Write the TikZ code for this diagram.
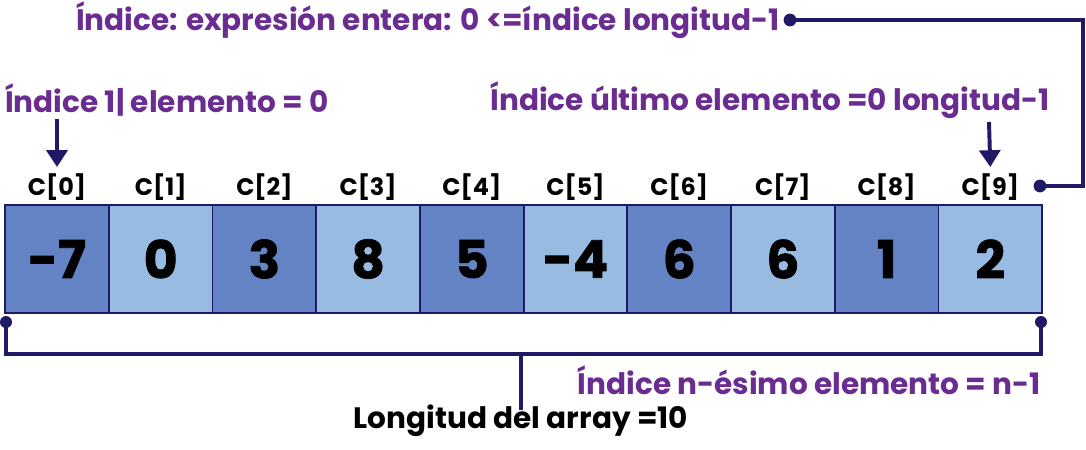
\documentclass[tikz,border=0pt]{standalone}
\usepackage{fontspec}
\setmainfont{Poppins}
\usepackage{tikz}
\usetikzlibrary{arrows.meta, positioning}

\definecolor{idxpurple}{HTML}{6A2C90}
\definecolor{navy}{HTML}{1F1966}
\definecolor{darkcell}{HTML}{6383C4}
\definecolor{lightcell}{HTML}{98BCE1}

\tikzset{
  cell/.style={draw=navy, line width=1.2pt, minimum width=2.59cm, minimum height=2.7cm,
               inner sep=0pt, font=\fontsize{37}{37}\selectfont\bfseries\addfontfeature{FakeBold=1.5}},
  lbl/.style={font=\fontsize{17}{17}\selectfont\bfseries, inner sep=0pt},
  ptext/.style={text=idxpurple, font=\fontsize{21}{21}\selectfont\bfseries, inner sep=0pt},
  wire/.style={navy, line width=3.3pt},
  pointer/.style={navy, line width=2.8pt, -{Triangle[width=0.52cm, length=0.42cm]}},
  dot/.style={navy}
}

\begin{document}
\begin{tikzpicture}[x=0.025cm, y=-0.025cm]
\useasboundingbox (0,0) rectangle (1086,449);

% cells
\node[cell, fill=darkcell] (c0) at (57,259) {-7};
\node[cell, fill=lightcell] (c1) at (160.7,259) {0};
\node[cell, fill=darkcell] (c2) at (264.4,259) {3};
\node[cell, fill=lightcell] (c3) at (368.1,259) {8};
\node[cell, fill=darkcell] (c4) at (471.8,259) {5};
\node[cell, fill=lightcell] (c5) at (575.5,259) {-4};
\node[cell, fill=darkcell] (c6) at (679.2,259) {6};
\node[cell, fill=lightcell] (c7) at (782.9,259) {6};
\node[cell, fill=darkcell] (c8) at (886.6,259) {1};
\node[cell, fill=lightcell] (c9) at (990.3,259) {2};

\node[lbl] (l0) at (57,187) {C[0]};
\node[lbl] (l1) at (160.7,187) {C[1]};
\node[lbl] (l2) at (264.4,187) {C[2]};
\node[lbl] (l3) at (368.1,187) {C[3]};
\node[lbl] (l4) at (471.8,187) {C[4]};
\node[lbl] (l5) at (575.5,187) {C[5]};
\node[lbl] (l6) at (679.2,187) {C[6]};
\node[lbl] (l7) at (782.9,187) {C[7]};
\node[lbl] (l8) at (886.6,187) {C[8]};
\node[lbl] (l9) at (990.3,187) {C[9]};

% texts
\node[ptext, anchor=east] (expr) at (780,20) {Índice: expresión entera: 0 <=índice longitud-1};
\node[ptext, anchor=west] (first) at (5,100) {Índice 1| elemento = 0};
\node[ptext, anchor=east] (last) at (1050,100) {Índice último elemento =0 longitud-1};
\node[ptext, anchor=east] (nth) at (1041,380) {Índice n-ésimo elemento = n-1};
\node[font=\fontsize{21}{21}\selectfont\bfseries, inner sep=0pt] (len) at (521,421) {Longitud del array =10};

\coordinate (t1) at (790,20);
\coordinate (t2) at (1083,20);
\coordinate (t3) at (1083,186);
\coordinate (t4) at (1040,186);
\coordinate (b1) at (6,322);
\coordinate (b2) at (6,354);
\coordinate (b3) at (1041,354);
\coordinate (b4) at (1041,322);
\coordinate (b5) at (521,354);
\coordinate (b6) at (521,410);
\coordinate (a1) at (57,119);
\coordinate (a2) at (989,122);

\draw[wire] (t1)--(t2)--(t3)--(t4);
\fill[dot] (t1) circle (0.16cm);
\fill[dot] (t4) circle (0.16cm);
\draw[wire] (b1)--(b2)--(b3)--(b4);
\fill[dot] (b1) circle (0.15cm);
\fill[dot] (b4) circle (0.15cm);
\draw[wire] (b5)--(b6);

\draw[pointer] (a1)--(l0.north |- 0,167);
\draw[pointer] (a2)--(l9.north |- 0,167);

\end{tikzpicture}
\end{document}
